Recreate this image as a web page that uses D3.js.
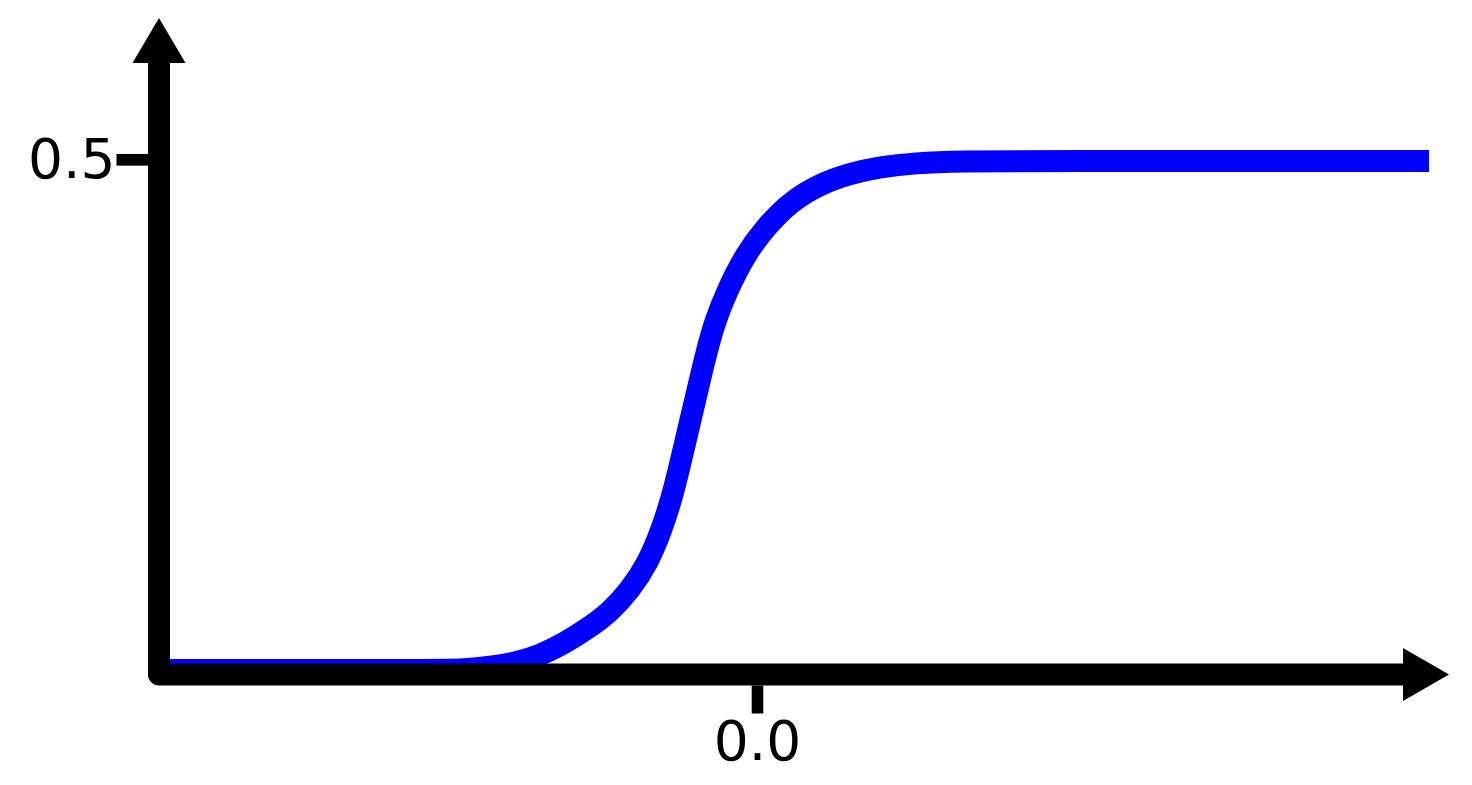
<!DOCTYPE html>
<html>
<head>
<meta charset="utf-8">
<script src="https://cdn.jsdelivr.net/npm/d3@7"></script>
<style>
  html, body { margin: 0; padding: 0; background: #fff; }
  svg { display: block; }
</style>
</head>
<body>
<svg id="chart" width="1472" height="785"></svg>
<script>
// ---- data ----
const curveX = [-1.0, -0.545, -0.485, -0.445, -0.4033, -0.3617, -0.32, -0.2783, -0.245, -0.2117,
  -0.1817, -0.1583, -0.14, -0.125, -0.1117, -0.0983, -0.085, -0.07, -0.05, -0.02, 0.0133, 0.055,
  0.105, 0.155, 0.205, 0.2633, 0.3383, 0.4533, 1.12];
const curveY = [0.0044, 0.0044, 0.0049, 0.0073, 0.0112, 0.0184, 0.0306, 0.0461, 0.0607, 0.082,
  0.1083, 0.1413, 0.1752, 0.2121, 0.2451, 0.2782, 0.3112, 0.3432, 0.3723, 0.4073, 0.4335, 0.4587,
  0.4762, 0.4864, 0.4927, 0.4966, 0.4983, 0.4985, 0.4985];
const xTicks = [0.0];
const yTicks = [0.5];
const xTickLabels = ["0.0"];
const yTickLabels = ["0.5"];

// ---- scales ----
const svg = d3.select("#chart");
const x = d3.scaleLinear().domain([-1, 1.12]).range([157, 1429]);
const y = d3.scaleLinear().domain([0, 0.5]).range([674.5, 159.5]);

const axisX = 159;           // centre of vertical axis line
const axisY = y(0);          // centre of horizontal axis line
const axisW = 22;

// ---- curve ----
const pts = curveX.map((d, i) => [d, curveY[i]]);
svg.append("path")
  .datum(pts)
  .attr("fill", "none")
  .attr("stroke", "#0000ff")
  .attr("stroke-width", 22)
  .attr("stroke-linecap", "butt")
  .attr("d", d3.line().x(d => x(d[0])).y(d => y(d[1])).curve(d3.curveBasis));

// ---- axes lines (L-shape with round join) ----
const yTop = 63, xEnd = 1404;
svg.append("path")
  .attr("d", `M${axisX},${yTop} L${axisX},${axisY} L${xEnd},${axisY}`)
  .attr("fill", "none")
  .attr("stroke", "#000")
  .attr("stroke-width", axisW)
  .attr("stroke-linejoin", "round")
  .attr("stroke-linecap", "butt");

// arrow heads
svg.append("path")
  .attr("d", `M${axisX - 26.5},${yTop} L${axisX + 26.5},${yTop} L${axisX},18 Z`)
  .attr("fill", "#000");
svg.append("path")
  .attr("d", `M${xEnd - 1},${axisY - 26.5} L${xEnd - 1},${axisY + 26.5} L1449,${axisY} Z`)
  .attr("fill", "#000");

// ---- y axis ticks ----
const gy = svg.append("g")
  .attr("transform", `translate(${axisX - axisW / 2},0)`)
  .call(d3.axisLeft(y).tickValues(yTicks).tickSize(31.5).tickPadding(1)
    .tickFormat((d, i) => yTickLabels[i]));
gy.select(".domain").remove();
gy.selectAll(".tick line").attr("stroke", "#000").attr("stroke-width", 11.7)
  .attr("transform", "translate(0,-0.2)");
gy.selectAll(".tick text")
  .attr("fill", "#000")
  .style("font-family", "'DejaVu Sans', sans-serif")
  .style("font-size", "55px");

// ---- x axis ticks ----
const gx = svg.append("g")
  .attr("transform", `translate(0,${axisY + axisW / 2})`)
  .call(d3.axisBottom(x).tickValues(xTicks).tickSize(28).tickPadding(7.5)
    .tickFormat((d, i) => xTickLabels[i]));
gx.select(".domain").remove();
gx.selectAll(".tick line").attr("stroke", "#000").attr("stroke-width", 11.6);
gx.selectAll(".tick text")
  .attr("fill", "#000")
  .style("font-family", "'DejaVu Sans', sans-serif")
  .style("font-size", "55px");
</script>
</body>
</html>
